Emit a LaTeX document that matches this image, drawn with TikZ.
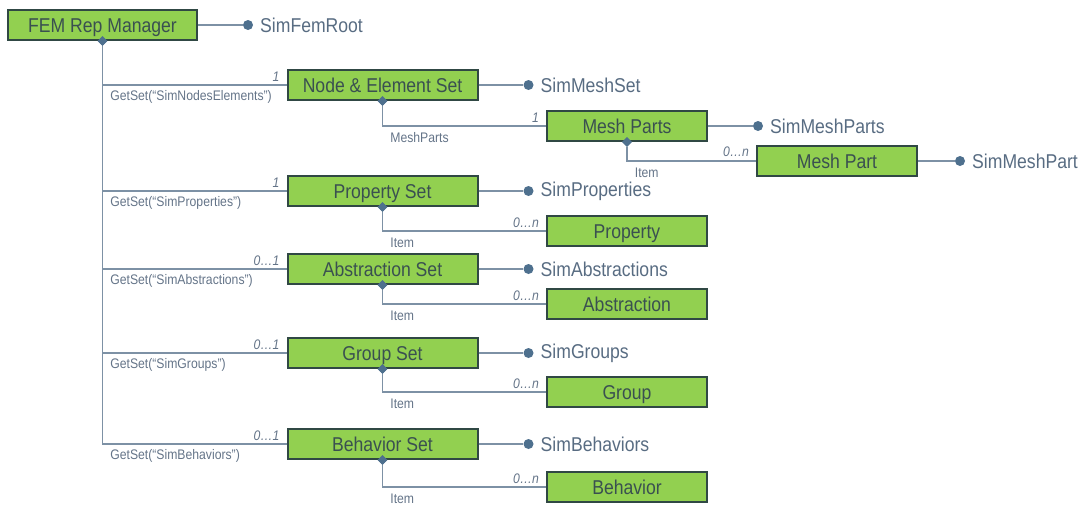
\documentclass[tikz,border=0pt]{standalone}
\usepackage{fontspec}
\setmainfont{Liberation Sans}
\newfontfamily\narrowfont{Liberation Sans}[FakeStretch=0.88]
\usetikzlibrary{
  shapes.geometric,
  positioning
}
\definecolor{boxgreen}{RGB}{146,208,80}
\definecolor{boxline}{RGB}{48,72,68}
\definecolor{boxtext}{RGB}{58,80,80}
\definecolor{linkgray}{RGB}{125,145,165}
\definecolor{dotblue}{RGB}{78,112,142}
\definecolor{attrtext}{RGB}{88,108,130}
\definecolor{roletext}{RGB}{100,116,136}

\begin{document}
\begin{tikzpicture}[
  x=0.75pt, y=-0.75pt,
  node distance=0pt and 4pt,
  setbox/.style={rectangle, draw=boxline, fill=boxgreen, line width=1.5pt, minimum height=22.5pt, minimum width=#1, inner sep=0pt, text height=10.7pt, text depth=0pt, font=\narrowfont\fontsize{15}{17}\selectfont, text=boxtext},
  setbox/.default=142.5pt,
  diam/.style={diamond, fill=dotblue, inner sep=0pt, minimum size=7pt},
  attrdot/.style={circle, fill=dotblue, inner sep=0pt, minimum size=7.5pt},
  attrlbl/.style={inner sep=1pt, font=\narrowfont\fontsize{15}{17}\selectfont, text=attrtext},
  link/.style={draw=linkgray, line width=0.8pt},
  role/.style={anchor=west, inner sep=1pt, xshift=4.5pt, yshift=-9pt, font=\narrowfont\fontsize{10.4}{12}\selectfont, text=roletext},
  mult/.style={anchor=south east, inner sep=1pt, xshift=-4pt, yshift=1.5pt, font=\narrowfont\fontsize{10.4}{12}\selectfont\itshape, text=roletext}
]
\useasboundingbox (0,0) rectangle (1089,514);

% Root
\node[setbox=141.75pt] (fem) at (102.5,25) {FEM Rep Manager};

% Sets on the main trunk
\node[setbox] (nes) at (382.5,85) {Node \& Element Set};
\node[setbox] (props) at (382.5,191) {Property Set};
\node[setbox] (abst) at (382.5,269) {Abstraction Set};
\node[setbox] (groups) at (382.5,353) {Group Set};
\node[setbox] (behav) at (382.5,444) {Behavior Set};

% Items
\node[setbox=120pt] (parts) at (627,126) {Mesh Parts};
\node[setbox=120pt] (part) at (837,161) {Mesh Part};
\node[setbox=120pt] (prop) at (627,231) {Property};
\node[setbox=120pt] (abs) at (627,304) {Abstraction};
\node[setbox=120pt] (grp) at (627,392) {Group};
\node[setbox=120pt] (beh) at (627,487) {Behavior};

% Composition diamonds
\foreach \n in {fem, nes, props, abst, groups, behav, parts}
  \node[diam] (\n-d) at (\n.south) {};

% Attribute dots and names
\foreach \n/\t/\d in {fem/SimFemRoot/37.5, nes/SimMeshSet/37.5, parts/SimMeshParts/37.5, part/SimMeshPart/31.5,
  props/SimProperties/37.5, abst/SimAbstractions/37.5, groups/SimGroups/37.5, behav/SimBehaviors/37.5}
{
  \node[attrdot] (\n-a) at ([xshift=\d pt]\n.east) {};
  \node[attrlbl, right=of \n-a] (\n-t) {\t};
  \draw[link] (\n) -- (\n-a);
}

% Trunk links
\draw[link] (fem-d) |- (nes) node[pos=0.5, role] (r1) {GetSet(“SimNodesElements”)} node[pos=1, mult] (m1) {1};
\draw[link] (fem-d) |- (props) node[pos=0.5, role] (r2) {GetSet(“SimProperties”)} node[pos=1, mult] (m2) {1};
\draw[link] (fem-d) |- (abst) node[pos=0.5, role] (r3) {GetSet(“SimAbstractions”)} node[pos=1, mult] (m3) {0…1};
\draw[link] (fem-d) |- (groups) node[pos=0.5, role] (r4) {GetSet(“SimGroups”)} node[pos=1, mult] (m4) {0…1};
\draw[link] (fem-d) |- (behav) node[pos=0.5, role] (r5) {GetSet(“SimBehaviors”)} node[pos=1, mult] (m5) {0…1};

% Item links
\draw[link] (nes-d) |- (parts) node[pos=0.5, role] (r6) {MeshParts} node[pos=1, mult] (m6) {1};
\draw[link] (parts-d) |- (part) node[pos=0.5, role] (r7) {Item} node[pos=1, mult] (m7) {0…n};
\draw[link] (props-d) |- (prop) node[pos=0.5, role] (r8) {Item} node[pos=1, mult] (m8) {0…n};
\draw[link] (abst-d) |- (abs) node[pos=0.5, role] (r9) {Item} node[pos=1, mult] (m9) {0…n};
\draw[link] (groups-d) |- (grp) node[pos=0.5, role] (r10) {Item} node[pos=1, mult] (m10) {0…n};
\draw[link] (behav-d) |- (beh) node[pos=0.5, role] (r11) {Item} node[pos=1, mult] (m11) {0…n};

% diamonds on top of the links
\foreach \n in {fem, nes, props, abst, groups, behav, parts}
  \fill[dotblue] (\n-d.north) -- (\n-d.east) -- (\n-d.south) -- (\n-d.west) -- cycle;
\end{tikzpicture}
\end{document}
